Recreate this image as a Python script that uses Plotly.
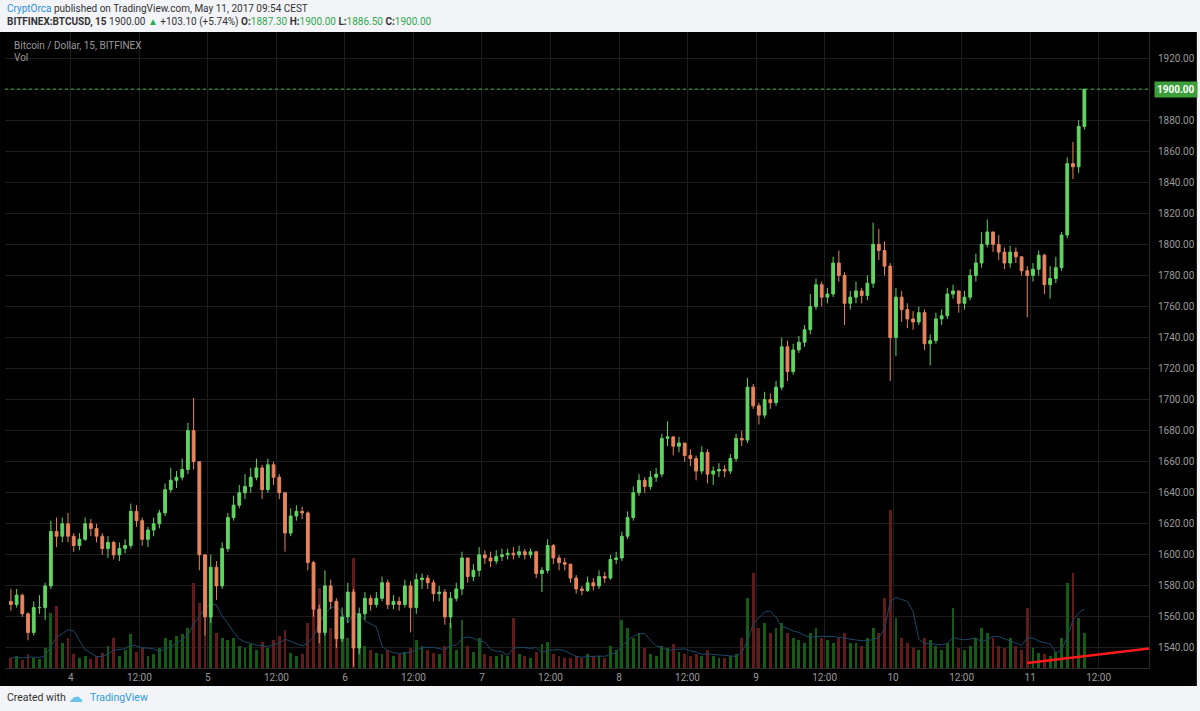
import pandas as pd
import plotly.graph_objects as go

# ---------------- data (hourly candles) ----------------
first_open = 1570
close = [
    1568, 1574, 1562, 1550, 1566, 1566, 1580, 1615, 1612, 1620,
    1612, 1606, 1610, 1620, 1617, 1612, 1604, 1608, 1600, 1604,
    1606, 1628, 1622, 1610, 1616, 1620, 1627, 1642, 1648, 1650,
    1655, 1680, 1660, 1600, 1560, 1592, 1580, 1604, 1624, 1632,
    1640, 1644, 1650, 1656, 1642, 1658, 1650, 1640, 1614, 1625,
    1628, 1627, 1595, 1565, 1550, 1580, 1570, 1546, 1560, 1576,
    1540, 1562, 1572, 1568, 1572, 1582, 1568, 1570, 1568, 1580,
    1566, 1584, 1585, 1582, 1575, 1576, 1560, 1572, 1578, 1598,
    1586, 1590, 1600, 1598, 1596, 1599, 1600, 1601, 1600, 1602,
    1600, 1602, 1588, 1590, 1606, 1598, 1595, 1594, 1585, 1578,
    1577, 1582, 1580, 1586, 1585, 1597, 1598, 1612, 1624, 1640,
    1648, 1644, 1650, 1652, 1675, 1676, 1670, 1672, 1664, 1662,
    1654, 1666, 1652, 1654, 1655, 1654, 1662, 1675, 1674, 1708,
    1696, 1690, 1700, 1698, 1708, 1734, 1718, 1732, 1737, 1745,
    1760, 1774, 1766, 1768, 1788, 1780, 1762, 1766, 1770, 1767,
    1775, 1800, 1796, 1786, 1740, 1766, 1758, 1752, 1750, 1756,
    1736, 1738, 1752, 1754, 1768, 1770, 1762, 1766, 1780, 1788,
    1800, 1808, 1800, 1795, 1788, 1795, 1792, 1783, 1780, 1784,
    1793, 1774, 1778, 1785, 1806, 1852, 1850, 1876, 1900,
]
high = [
    1578, 1578, 1575, 1563, 1570, 1574, 1582, 1622, 1624, 1624,
    1627, 1614, 1614, 1624, 1623, 1620, 1614, 1612, 1609, 1608,
    1610, 1633, 1632, 1624, 1618, 1624, 1629, 1646, 1656, 1654,
    1662, 1685, 1701, 1660, 1600, 1600, 1596, 1608, 1627, 1638,
    1645, 1652, 1656, 1662, 1658, 1662, 1660, 1652, 1640, 1630,
    1632, 1631, 1628, 1596, 1568, 1590, 1584, 1572, 1566, 1582,
    1578, 1566, 1576, 1574, 1576, 1586, 1584, 1574, 1573, 1584,
    1583, 1588, 1588, 1587, 1584, 1580, 1578, 1576, 1582, 1602,
    1598, 1594, 1605, 1603, 1602, 1603, 1604, 1604, 1605, 1606,
    1604, 1604, 1602, 1592, 1610, 1607, 1600, 1598, 1592, 1587,
    1580, 1586, 1585, 1590, 1589, 1600, 1602, 1615, 1628, 1644,
    1652, 1650, 1654, 1656, 1678, 1686, 1676, 1676, 1672, 1668,
    1664, 1670, 1668, 1657, 1659, 1658, 1665, 1678, 1680, 1714,
    1710, 1698, 1705, 1704, 1712, 1740, 1738, 1736, 1741, 1748,
    1768, 1778, 1776, 1772, 1792, 1796, 1782, 1770, 1776, 1772,
    1780, 1814, 1810, 1802, 1788, 1772, 1770, 1762, 1757, 1760,
    1758, 1742, 1756, 1758, 1772, 1774, 1770, 1770, 1784, 1794,
    1808, 1816, 1808, 1806, 1798, 1799, 1798, 1792, 1786, 1788,
    1796, 1794, 1786, 1792, 1808, 1856, 1866, 1880, 1900,
]
low = [
    1564, 1566, 1560, 1545, 1548, 1562, 1558, 1578, 1605, 1608,
    1608, 1602, 1603, 1609, 1612, 1608, 1600, 1598, 1597, 1596,
    1601, 1604, 1618, 1606, 1605, 1612, 1617, 1625, 1640, 1643,
    1648, 1652, 1655, 1590, 1548, 1556, 1571, 1578, 1602, 1622,
    1630, 1636, 1640, 1648, 1636, 1640, 1645, 1636, 1602, 1612,
    1622, 1623, 1590, 1560, 1543, 1548, 1565, 1540, 1544, 1556,
    1528, 1536, 1558, 1564, 1566, 1570, 1565, 1565, 1564, 1566,
    1550, 1562, 1578, 1578, 1570, 1570, 1555, 1553, 1570, 1574,
    1582, 1583, 1586, 1594, 1592, 1594, 1596, 1597, 1597, 1598,
    1597, 1598, 1585, 1576, 1588, 1594, 1590, 1590, 1582, 1575,
    1574, 1576, 1577, 1578, 1582, 1584, 1594, 1596, 1610, 1622,
    1638, 1640, 1642, 1647, 1650, 1670, 1664, 1666, 1660, 1657,
    1648, 1652, 1646, 1645, 1650, 1650, 1652, 1660, 1670, 1672,
    1694, 1684, 1688, 1694, 1696, 1706, 1712, 1716, 1730, 1734,
    1742, 1758, 1760, 1762, 1766, 1776, 1748, 1758, 1762, 1762,
    1764, 1772, 1790, 1780, 1712, 1728, 1750, 1746, 1745, 1748,
    1732, 1722, 1736, 1748, 1752, 1765, 1756, 1758, 1764, 1776,
    1785, 1798, 1795, 1790, 1784, 1785, 1788, 1780, 1753, 1776,
    1780, 1768, 1765, 1775, 1783, 1804, 1842, 1846, 1874,
]
volume = [
    10, 12, 8, 14, 10, 9, 20, 55, 62, 25,
    30, 14, 10, 12, 9, 12, 15, 22, 30, 12,
    18, 34, 16, 20, 12, 14, 20, 30, 28, 32,
    34, 40, 85, 65, 75, 55, 35, 30, 28, 30,
    22, 20, 24, 18, 26, 20, 28, 32, 38, 15,
    12, 14, 45, 70, 80, 65, 40, 55, 35, 30,
    110, 40, 22, 18, 15, 14, 18, 12, 14, 16,
    20, 28, 22, 18, 15, 14, 22, 45, 18, 48,
    22, 16, 30, 14, 12, 12, 14, 12, 50, 14,
    12, 10, 16, 24, 26, 14, 12, 10, 10, 12,
    10, 14, 12, 12, 10, 22, 18, 48, 40, 30,
    35, 20, 14, 12, 22, 20, 24, 16, 14, 12,
    14, 12, 18, 12, 10, 10, 12, 14, 30, 70,
    95, 40, 45, 35, 40, 45, 35, 30, 28, 25,
    35, 40, 30, 28, 25, 30, 35, 25, 25, 22,
    30, 40, 35, 70, 158, 50, 30, 25, 20, 18,
    30, 28, 22, 18, 25, 60, 20, 18, 22, 30,
    40, 35, 30, 22, 20, 30, 22, 18, 60, 20,
    15, 14, 12, 16, 30, 85, 95, 50, 35,
]
start_time = "2017-05-03 13:30"
tick_labels = ["4", "12:00", "5", "12:00", "6", "12:00", "7", "12:00",
               "8", "12:00", "9", "12:00", "10", "12:00", "11", "12:00"]
price_ticks = list(range(1540, 1921, 20))
last_price = 1900
trend_start = ("2017-05-10 23:30", 1530.3)
trend_end = ("2017-05-11 20:49", 1539.7)

# ---------------- derived ----------------
times = pd.date_range(start_time, periods=len(close), freq="h")
opens = [first_open] + close[:-1]
tick_times = pd.date_range("2017-05-04 00:00", periods=len(tick_labels), freq="12h")
vol_ma = pd.Series(volume).rolling(5, min_periods=1).mean()
vol_colors = ["#155a15" if c >= o else "#621b1b" for o, c in zip(opens, close)]

W, H = 1200, 711
L_PX, R_PX, T_PX, B_PX = 5, 1152, 32, 668


def px(x, y):
    return (x - L_PX) / (R_PX - L_PX), (B_PX - y) / (B_PX - T_PX)


fig = go.Figure()
fig.add_trace(go.Bar(
    x=times, y=volume, marker=dict(color=vol_colors, line=dict(width=0)),
    width=3600000 * 0.5, yaxis="y", hoverinfo="skip"))
fig.add_trace(go.Scatter(
    x=times, y=vol_ma, mode="lines", line=dict(color="#1c4868", width=1),
    yaxis="y", hoverinfo="skip"))
fig.add_trace(go.Candlestick(
    x=times, open=opens, high=high, low=low, close=close, yaxis="y2",
    increasing=dict(line=dict(color="#62d462", width=1), fillcolor="#62d462"),
    decreasing=dict(line=dict(color="#e8845e", width=1), fillcolor="#e8845e"),
    whiskerwidth=0))

shapes = [
    # black chart container
    dict(type="rect", xref="paper", yref="paper", layer="below",
         x0=px(0, 0)[0], x1=px(1200, 0)[0], y0=px(0, 686)[1], y1=px(0, 32)[1],
         fillcolor="#000000", line=dict(width=0)),
    # last price line
    dict(type="line", xref="paper", yref="y2", x0=0, x1=1, y0=last_price, y1=last_price,
         line=dict(color="#3fae3f", width=1, dash="dot")),
    # drawn trend line
    dict(type="line", xref="x", yref="y2", x0=trend_start[0], y0=trend_start[1],
         x1=trend_end[0], y1=trend_end[1], line=dict(color="#ff1a1a", width=2.5)),
]

FONT = "Roboto, Liberation Sans, sans-serif"
ann = []
x0, y0 = px(5, 9)
ann.append(dict(xref="paper", yref="paper", x=x0, y=y0, xanchor="left", yanchor="middle",
                showarrow=False, font=dict(family=FONT, size=10, color="#333333"),
                text="<span style='color:#2d8fdd'>CryptOrca</span> published on TradingView.com, May 11, 2017 09:54 CEST"))
x0, y0 = px(5, 22)
ann.append(dict(xref="paper", yref="paper", x=x0, y=y0, xanchor="left", yanchor="middle",
                showarrow=False, font=dict(family=FONT, size=10, color="#333333"),
                text="<b>BITFINEX:BTCUSD, 15</b> 1900.00 <span style='color:#2fa84f'>▲</span> +103.10 (+5.74%) "
                     "<b>O:</b><span style='color:#2fa84f'>1887.30</span> "
                     "<b>H:</b><span style='color:#2fa84f'>1900.00</span> "
                     "<b>L:</b><span style='color:#2fa84f'>1886.50</span> "
                     "<b>C:</b><span style='color:#2fa84f'>1900.00</span>"))
x0, y0 = px(12, 45)
ann.append(dict(xref="paper", yref="paper", x=x0, y=y0, xanchor="left", yanchor="middle",
                showarrow=False, font=dict(family=FONT, size=10, color="#9a9a9a"),
                text="Bitcoin / Dollar, 15, BITFINEX"))
x0, y0 = px(12, 58)
ann.append(dict(xref="paper", yref="paper", x=x0, y=y0, xanchor="left", yanchor="middle",
                showarrow=False, font=dict(family=FONT, size=10, color="#9a9a9a"), text="Vol"))
# last price label
ann.append(dict(xref="paper", yref="y2", x=px(1157, 0)[0], y=last_price, xanchor="left",
                yanchor="middle", showarrow=False, bgcolor="#3c9f3c", borderpad=2,
                font=dict(family=FONT, size=10, color="#ffffff"), text="<b>1900.00</b>"))
# footer
x0, y0 = px(5, 697)
ann.append(dict(xref="paper", yref="paper", x=x0, y=y0, xanchor="left", yanchor="middle",
                showarrow=False, font=dict(family=FONT, size=10.5, color="#333333"),
                text="Created with"))
x0, y0 = px(66, 697)
ann.append(dict(xref="paper", yref="paper", x=x0, y=y0, xanchor="left", yanchor="middle",
                showarrow=False, font=dict(family="DejaVu Sans", size=15, color="#6cc3ea"),
                text="☁"))
x0, y0 = px(88, 697)
ann.append(dict(xref="paper", yref="paper", x=x0, y=y0, xanchor="left", yanchor="middle",
                showarrow=False, font=dict(family=FONT, size=10.5, color="#2f9bd6"),
                text="TradingView"))

fig.update_layout(
    width=W, height=H,
    margin=dict(l=L_PX, r=W - R_PX, t=T_PX, b=H - B_PX),
    paper_bgcolor="#f3f4f8", plot_bgcolor="#000000",
    showlegend=False, hovermode=False, bargap=0,
    shapes=shapes, annotations=ann,
    xaxis=dict(type="date", range=["2017-05-03 12:28", "2017-05-11 20:49"],
               tickvals=tick_times, ticktext=tick_labels,
               showgrid=True, gridcolor="#1d1d1d", gridwidth=1,
               zeroline=False, showline=True, linecolor="#2a2a2a",
               ticks="", tickfont=dict(family=FONT, size=10, color="#9a9a9a"),
               rangeslider=dict(visible=False), fixedrange=True),
    yaxis=dict(range=[0, B_PX - T_PX], showgrid=False, showticklabels=False,
               zeroline=False, fixedrange=True),
    yaxis2=dict(overlaying="y", side="right", range=[1527.1, 1936.8],
                tickvals=price_ticks, tickformat=".2f",
                showgrid=True, gridcolor="#1d1d1d", gridwidth=1, zeroline=False,
                showline=True, linecolor="#2a2a2a", ticks="",
                tickfont=dict(family=FONT, size=10, color="#9a9a9a"),
                ticklabelstandoff=6, fixedrange=True),
)

fig.write_html("out.html", config={"displayModeBar": False},
               post_script="document.body.style.margin='0';")
